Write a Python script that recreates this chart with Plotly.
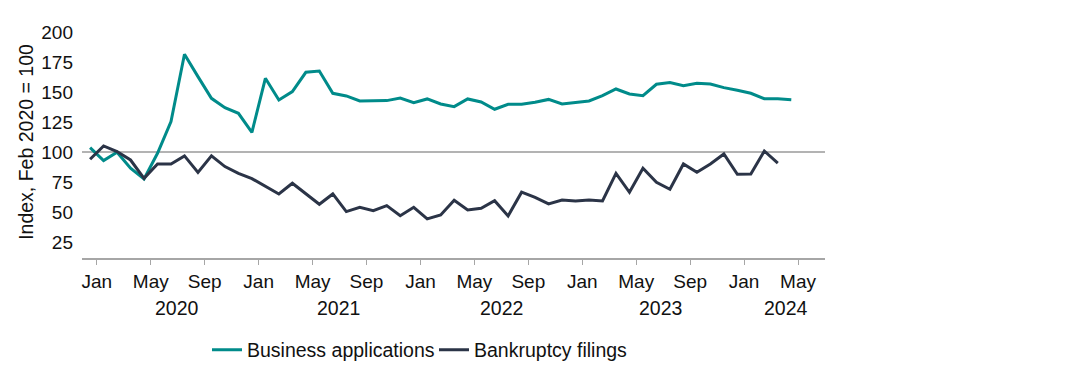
import plotly.graph_objects as go

# ---- data ----
months = [f"{y}-{m:02d}" for y in range(2020, 2025) for m in range(1, 13)][:53]  # Jan 2020 .. May 2024

business_applications = [
    103.6, 92.8, 99.8, 86.4, 77.5, 98.9, 125.3, 181.4, 162.8, 144.7, 136.9, 132.2,
    116.4, 161.4, 143.3, 150.3, 166.4, 167.5, 148.9, 146.7, 142.5, 142.8, 142.8, 145.0,
    141.1, 144.2, 140.0, 137.8, 144.2, 141.7, 135.6, 139.7, 139.7, 141.4, 143.8, 140.0,
    141.1, 142.5, 146.9, 152.5, 148.3, 146.9, 156.4, 157.8, 155.3, 157.2, 156.7, 153.6,
    151.4, 148.9, 144.4, 144.4, 143.6,
]
bankruptcy_filings = [
    93.9, 105.0, 100.3, 93.3, 78.0, 90.0, 90.0, 96.7, 83.0, 96.7, 87.8, 82.2,
    77.8, 71.4, 65.0, 73.9, 65.3, 56.4, 65.0, 50.3, 53.9, 51.1, 55.3, 46.9,
    53.9, 44.2, 47.5, 59.7, 51.7, 53.1, 59.4, 46.7, 66.5, 62.2, 56.7, 60.0,
    59.2, 60.0, 59.2, 82.2, 66.4, 86.4, 74.7, 68.9, 90.0, 83.0, 90.0, 98.3,
    81.4, 81.7, 100.8, 90.6,
]

tick_months = ["2020-01", "2020-05", "2020-09", "2021-01", "2021-05", "2021-09",
               "2022-01", "2022-05", "2022-09", "2023-01", "2023-05", "2023-09",
               "2024-01", "2024-05"]
tick_labels = ["Jan", "May", "Sep"] * 4 + ["Jan", "May"]

year_labels = ["2020", "2021", "2022", "2023", "2024"]
year_label_pos = [6.45, 18.4, 30.5, 42.3, 51.6]  # month-index centre of each year label

y_ticks = [25, 50, 75, 100, 125, 150, 175, 200]

TEAL = "#008B8A"
NAVY = "#2B3447"
TXT = "#111111"
FONT = "Liberation Sans, Arial, sans-serif"

x_idx = list(range(len(months)))
tick_pos = [months.index(m) + 0.5 for m in tick_months]

fig = go.Figure()
fig.add_trace(go.Scatter(x=x_idx[:len(business_applications)], y=business_applications,
                         mode="lines", name="Business applications",
                         line=dict(color=TEAL, width=3)))
fig.add_trace(go.Scatter(x=x_idx[:len(bankruptcy_filings)], y=bankruptcy_filings,
                         mode="lines", name="Bankruptcy filings",
                         line=dict(color=NAVY, width=3)))

fig.add_shape(type="line", xref="paper", x0=0, x1=1, yref="y", y0=100, y1=100,
              line=dict(color="#9a9a9a", width=1.5), layer="below")

for lbl, pos in zip(year_labels, year_label_pos):
    fig.add_annotation(x=pos, xref="x", y=-0.2155, yref="paper", text=lbl,
                       showarrow=False, xanchor="center", yanchor="middle",
                       font=dict(family=FONT, size=19.5, color=TXT))

fig.update_layout(
    width=1088, height=380,
    margin=dict(l=74, r=271, t=18, b=130),
    paper_bgcolor="white", plot_bgcolor="white",
    font=dict(family=FONT, size=19.5, color=TXT),
    showlegend=True,
    legend=dict(orientation="h", xref="container", yref="container",
                x=0.1829, xanchor="left", y=1 - 342 / 380, yanchor="middle",
                font=dict(family=FONT, size=19.5, color=TXT),
                itemwidth=30, tracegroupgap=0, entrywidth=182, entrywidthmode="pixels"),
    xaxis=dict(range=[-0.6, 54.5], tickmode="array", tickvals=tick_pos, ticktext=tick_labels,
               automargin=False,
               showgrid=False, zeroline=False, showline=True, linecolor="#a6a6a6", linewidth=1.5,
               ticks="outside", ticklen=5, tickcolor="#a6a6a6", tickwidth=1,
               tickfont=dict(family=FONT, size=19, color=TXT)),
    yaxis=dict(range=[11.6, 205], tickmode="array", tickvals=y_ticks,
               automargin=False, ticklabelstandoff=8,
               showgrid=False, zeroline=False, showline=False, ticks="",
               title=dict(text="Index, Feb 2020 = 100", font=dict(family=FONT, size=19.5, color=TXT),
                          standoff=2),
               tickfont=dict(family=FONT, size=19, color=TXT)),
)

fig.write_html("out.html")
